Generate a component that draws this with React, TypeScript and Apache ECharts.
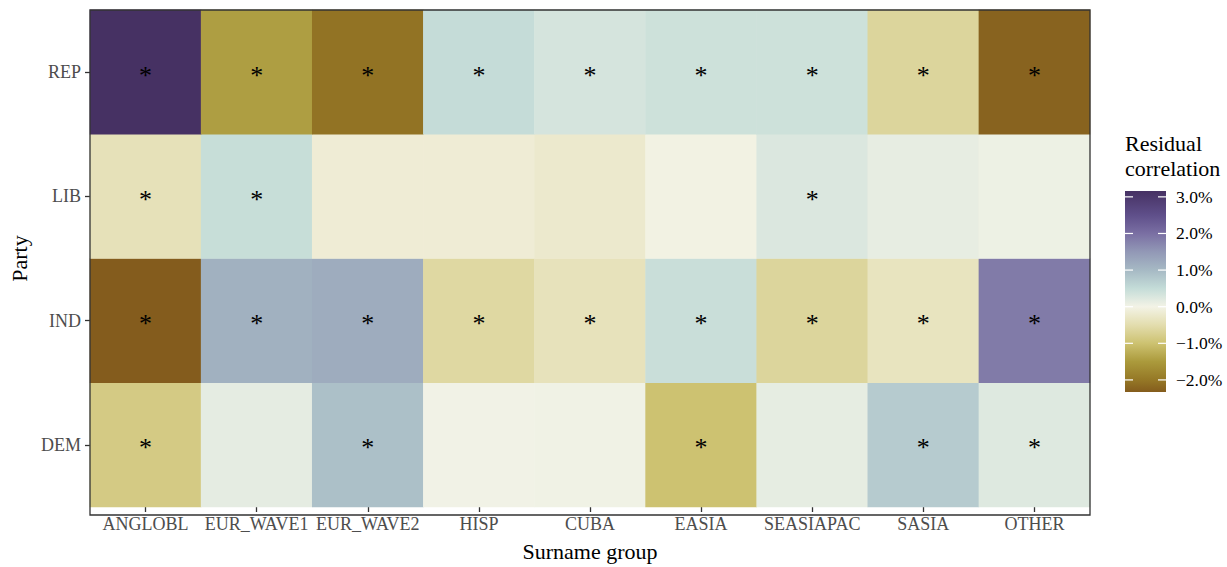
import React, { useEffect, useRef } from "react";
import * as echarts from "echarts";

// Categories
const surnameGroups = ["ANGLOBL", "EUR_WAVE1", "EUR_WAVE2", "HISP", "CUBA", "EASIA", "SEASIAPAC", "SASIA", "OTHER"];
const parties = ["DEM", "IND", "LIB", "REP"];

// Residual correlation (%) by party, in surname-group order
const repValues = [3.16, -1.45, -2.05, 0.5, 0.32, 0.4, 0.4, -0.65, -2.25];
const libValues = [-0.4, 0.47, -0.15, -0.15, -0.22, -0.03, 0.25, 0.13, 0.06];
const indValues = [-2.33, 1.12, 1.2, -0.6, -0.38, 0.45, -0.65, -0.35, 1.85];
const demValues = [-0.85, 0.15, 0.9, 0.02, 0.03, -1.0, 0.14, 0.74, 0.22];

// Significance flags (drawn as "*")
const repSig = [true, true, true, true, true, true, true, true, true];
const libSig = [true, true, false, false, false, false, true, false, false];
const indSig = [true, true, true, true, true, true, true, true, true];
const demSig = [true, false, true, false, false, true, false, true, true];

// Colour bar ticks
const legendTicks = [3, 2, 1, 0, -1, -2];

// Diverging palette: value -> colour
const paletteStops: [number, string][] = [
  [3.16, "#463163"],
  [2.5, "#5f4f8a"],
  [2.0, "#7a6fa3"],
  [1.5, "#9298b6"],
  [1.0, "#a6b9c4"],
  [0.5, "#c4dcd8"],
  [0.0, "#f3f3e6"],
  [-0.5, "#e3ddae"],
  [-1.0, "#cdc271"],
  [-1.5, "#ab9a3c"],
  [-2.0, "#957826"],
  [-2.33, "#845c1d"],
];

const FONT = "'Liberation Serif', 'DejaVu Serif', serif";

function hexToRgb(h: string) {
  const n = parseInt(h.slice(1), 16);
  return [(n >> 16) & 255, (n >> 8) & 255, n & 255];
}

function colorAt(v: number) {
  const stops = paletteStops;
  if (v >= stops[0][0]) return stops[0][1];
  if (v <= stops[stops.length - 1][0]) return stops[stops.length - 1][1];
  for (let i = 0; i < stops.length - 1; i++) {
    const [v0, c0] = stops[i];
    const [v1, c1] = stops[i + 1];
    if (v <= v0 && v >= v1) {
      const t = (v0 - v) / (v0 - v1);
      const a = hexToRgb(c0);
      const b = hexToRgb(c1);
      const m = a.map((x, k) => Math.round(x + (b[k] - x) * t));
      return `rgb(${m[0]},${m[1]},${m[2]})`;
    }
  }
  return stops[0][1];
}

const fmtPct = (v: number) => (v < 0 ? "\u2212" : "") + Math.abs(v).toFixed(1) + "%";

export default function App() {
  const ref = useRef<HTMLDivElement>(null);

  useEffect(() => {
    if (!ref.current) return;
    const chart = echarts.init(ref.current, undefined, { renderer: "svg" });

    const rows = [demValues, indValues, libValues, repValues];
    const sigRows = [demSig, indSig, libSig, repSig];
    const data: number[][] = [];
    rows.forEach((row, y) => row.forEach((v, x) => data.push([x, y, v])));

    const vMax = paletteStops[0][0];
    const vMin = paletteStops[paletteStops.length - 1][0];

    // Sampled colour ramp for the visual map (low -> high)
    const ramp: string[] = [];
    const N = 80;
    for (let i = 0; i <= N; i++) ramp.push(colorAt(vMin + ((vMax - vMin) * i) / N));

    // Colour bar geometry
    const barX = 1125, barY = 191, barW = 41, barH = 201;
    const yOf = (v: number) => barY + ((vMax - v) / (vMax - vMin)) * barH;
    const gradStops = paletteStops.map(([v, c]) => ({ offset: (vMax - v) / (vMax - vMin), color: c }));

    const legendGraphics: any[] = [
      {
        type: "text",
        left: 1125,
        top: 131,
        style: { text: "Residual\ncorrelation", font: `22px ${FONT}`, fill: "#000", lineHeight: 25 },
      },
      {
        type: "rect",
        shape: { x: barX, y: barY, width: barW, height: barH },
        style: { fill: { type: "linear", x: 0, y: 0, x2: 0, y2: 1, colorStops: gradStops } },
      },
    ];
    legendTicks.forEach((t) => {
      const y = yOf(t);
      legendGraphics.push(
        { type: "line", shape: { x1: barX, y1: y, x2: barX + 8, y2: y }, style: { stroke: "#fff", lineWidth: 1.2 }, z: 10 },
        { type: "line", shape: { x1: barX + barW - 8, y1: y, x2: barX + barW, y2: y }, style: { stroke: "#fff", lineWidth: 1.2 }, z: 10 },
        {
          type: "text",
          x: barX + barW + 10,
          y,
          style: { text: fmtPct(t), font: `17.5px ${FONT}`, fill: "#000", textVerticalAlign: "middle", textAlign: "left" },
        }
      );
    });

    chart.setOption({
      animation: false,
      backgroundColor: "#fff",
      grid: { left: 90, right: 137, top: 10, bottom: 52, containLabel: false },
      xAxis: {
        type: "category",
        data: surnameGroups,
        name: "Surname group",
        nameLocation: "middle",
        nameGap: 33,
        nameTextStyle: { fontFamily: FONT, fontSize: 22, color: "#000" },
        axisLine: { show: false },
        axisTick: { show: true, alignWithLabel: true, length: 5, lineStyle: { color: "#333", width: 1.3 } },
        axisLabel: { fontFamily: FONT, fontSize: 18, color: "#4d4d4d", margin: 8, interval: 0 },
        splitLine: { show: false },
      },
      yAxis: {
        type: "category",
        data: parties,
        name: "Party",
        nameLocation: "middle",
        nameGap: 60,
        nameRotate: 90,
        nameTextStyle: { fontFamily: FONT, fontSize: 22, color: "#000" },
        axisLine: { show: false },
        axisTick: { show: true, alignWithLabel: true, length: 5, lineStyle: { color: "#333", width: 1.3 } },
        axisLabel: { fontFamily: FONT, fontSize: 18, color: "#4d4d4d", margin: 9 },
        splitLine: { show: false },
      },
      visualMap: {
        type: "continuous",
        show: false,
        min: vMin,
        max: vMax,
        dimension: 2,
        inRange: { color: ramp },
      },
      series: [
        {
          type: "heatmap",
          data,
          itemStyle: { borderWidth: 0 },
          label: {
            show: true,
            fontFamily: FONT,
            fontSize: 26,
            color: "#000",
            offset: [0, 3],
            formatter: (p: any) => (sigRows[p.data[1]][p.data[0]] ? "*" : ""),
          },
          emphasis: { disabled: true },
        },
      ],
      graphic: [
        {
          type: "rect",
          shape: { x: 90, y: 10, width: 1000, height: 505 },
          style: { fill: "none", stroke: "#333", lineWidth: 1.3 },
          z: 100,
        },
        ...legendGraphics,
      ],
    });

    return () => chart.dispose();
  }, []);

  return <div ref={ref} style={{ position: "fixed", left: 0, top: 0, width: 1227, height: 567 }} />;
}
